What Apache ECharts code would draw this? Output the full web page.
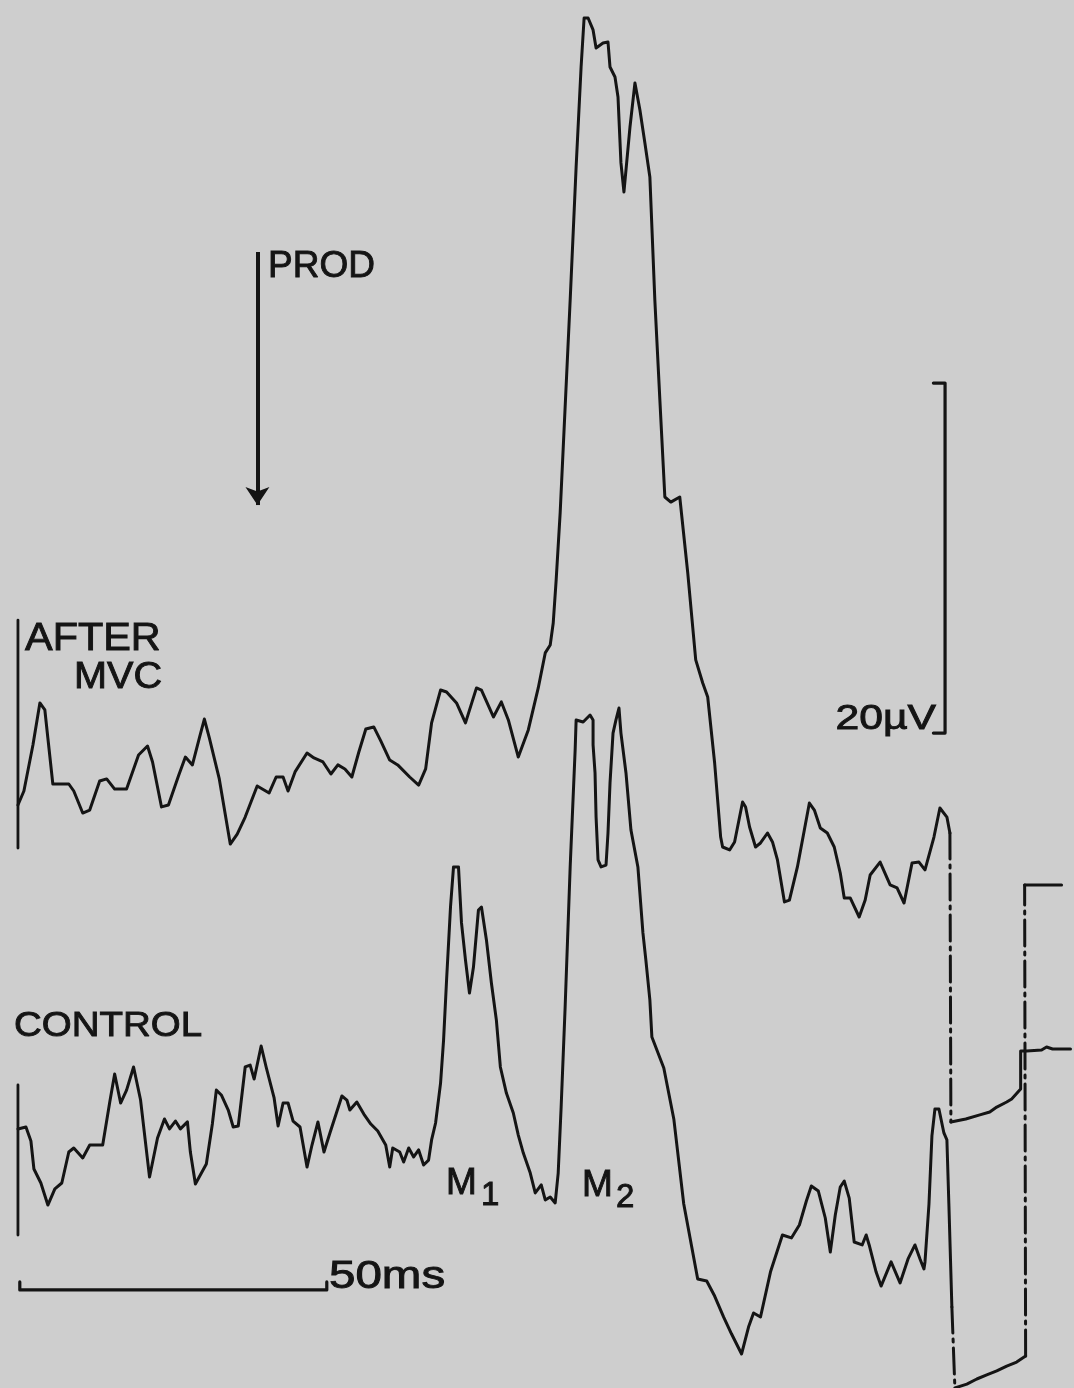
<!DOCTYPE html>
<html>
<head>
<meta charset="utf-8">
<script src="https://cdn.jsdelivr.net/npm/echarts@6/dist/echarts.min.js"></script>
<style>
  html, body { margin: 0; padding: 0; background: #cecece; }
  #chart { width: 1074px; height: 1388px; }
</style>
</head>
<body>
<div id="chart"></div>
<script>
// Averaged EMG responses to a prod: after maximal voluntary contraction (MVC) and control.
// Time in ms from the onset marker, amplitude in µV.

const afterMvcTrace = [
  [0,-1.0],[0.97,-0.2],[2.44,2.43],[3.57,4.83],[4.38,4.43],[4.87,2.83],[5.68,0.2],[8.28,0.2],[9.09,-0.2],
  [10.55,-1.46],[11.69,-1.29],[13.31,0.37],[14.45,0.49],[15.75,-0.09],[17.69,-0.09],[19.64,1.86],[21.10,2.37],
  [21.92,1.46],[23.38,-1.11],[24.51,-1.0],[26.14,0.66],[27.27,1.74],[28.41,1.29],[29.55,2.83],[30.36,3.91],
  [31.17,2.83],[32.79,0.49],[34.58,-3.23],[35.71,-2.66],[37.01,-1.69],[38.96,0.09],[40.91,-0.31],[42.05,0.6],
  [43.18,0.6],[43.99,-0.2],[45.13,0.89],[47.08,1.97],[48.21,1.69],[49.68,1.46],[50.97,0.77],[52.11,1.29],
  [53.25,1.06],[54.38,0.6],[55.52,2.03],[56.66,3.34],[57.95,3.46],[59.09,2.66],[60.55,1.57],[61.85,1.29],
  [63.80,0.6],[65.26,0.14],[66.40,1.06],[67.37,3.69],[68.83,5.57],[69.81,5.46],[71.43,4.83],[72.89,3.69],
  [74.68,5.69],[75.49,5.57],[77.44,4.03],[78.73,4.89],[79.87,3.86],[81.49,1.74],[83.12,3.29],[84.74,5.69],
  [85.88,7.69],[86.69,8.14],[87.18,9.4],[87.66,11.86],[88.31,15.69],[89.94,27.86],[90.91,35.46],[91.72,41.17],
  [92.21,43.97],[92.86,43.97],[93.67,43.29],[94.16,42.26],[95.29,42.54],[96.10,42.6],[96.43,41.17],[97.24,40.6],
  [97.73,39.46],[98.21,35.69],[98.70,34.03],[99.68,37.74],[100.49,40.26],[101.30,38.71],[102.11,36.83],
  [102.92,34.89],[103.73,27.86],[104.55,22.14],[105.36,16.6],[106.33,16.31],[107.79,16.6],[109.09,12.26],
  [110.39,7.29],[111.53,5.97],[112.34,5.17],[113.47,1.4],[114.45,-2.83],[114.77,-3.4],[115.91,-3.57],
  [116.72,-3.11],[117.53,-1.69],[118.02,-0.83],[118.51,-1.11],[119.16,-2.26],[120.13,-3.4],[120.94,-3.17],
  [122.08,-2.6],[122.89,-3.11],[123.70,-4.14],[124.84,-6.54],[125.65,-6.43],[126.95,-4.54],[128.08,-2.43],
  [128.90,-0.89],[129.71,-1.29],[130.68,-2.31],[131.82,-2.6],[132.95,-3.4],[133.93,-4.89],[134.58,-6.31],
  [135.55,-6.31],[137.01,-7.4],[137.99,-6.43],[138.80,-5.0],[140.42,-4.26],[142.05,-5.57],[143.18,-5.74],
  [144.32,-6.6],[145.62,-4.31],[146.75,-4.26],[147.73,-4.71],[149.19,-2.83],[150.16,-1.17],[151.30,-1.69],
  [151.79,-2.6]
];
// pen drop after the sweep, then the slow return
const afterMvcDrop = [[151.79,-2.6],[151.95,-19.11]];
const afterMvcReturn = [
  [151.95,-19.11],[154.38,-18.94],[156.66,-18.71],[158.28,-18.54],[159.42,-18.26],[161.04,-17.97],
  [161.85,-17.8],[163.31,-17.23],[163.31,-15.06],[164.29,-15.06],[166.72,-15.0],[167.53,-14.83],
  [168.51,-14.94],[171.43,-14.94]
];

const controlTrace = [
  [0,0.49],[1.30,0.6],[2.11,-0.2],[2.60,-1.8],[3.73,-2.6],[4.87,-3.86],[6.01,-2.94],[7.14,-2.6],[8.28,-0.83],
  [9.09,-0.6],[10.55,-1.17],[11.69,-0.43],[13.80,-0.43],[14.94,2.0],[15.75,3.63],[16.72,1.97],[17.69,2.71],
  [18.83,4.03],[19.97,2.14],[21.43,-2.26],[22.73,-0.03],[23.86,1.06],[24.68,0.49],[25.65,0.94],[26.46,0.49],
  [27.60,0.89],[28.08,-0.83],[28.90,-2.66],[30.68,-1.51],[31.66,0.77],[32.31,2.71],[33.12,2.43],[34.25,1.57],
  [35.06,0.6],[35.88,0.66],[37.01,4.03],[37.82,4.14],[38.47,3.34],[39.61,5.23],[40.42,4.03],[41.72,2.26],
  [42.37,0.66],[43.18,1.97],[43.99,1.97],[44.81,0.94],[45.94,0.6],[47.08,-1.69],[47.89,-0.43],[48.86,0.89],
  [49.84,-0.83],[50.81,0.26],[52.76,2.37],[53.57,2.14],[54.06,1.57],[55.19,2.03],[56.33,1.34],[57.47,0.77],
  [58.60,0.37],[59.90,-0.43],[60.55,-1.69],[61.04,-0.6],[62.18,-0.83],[62.82,-1.4],[63.64,-0.6],[64.45,-1.11],
  [65.26,-0.71],[66.07,-1.57],[66.88,-1.29],[67.37,-0.14],[68.02,0.83],[68.83,3.11],[69.32,5.57],[69.81,9.0],
  [70.45,13.17],[70.94,15.46],[71.75,15.46],[72.24,12.26],[72.89,10.14],[73.54,8.26],[74.19,9.74],[75.0,13.0],
  [75.49,13.17],[76.30,11.29],[77.11,8.83],[77.92,6.71],[78.57,4.03],[79.55,2.54],[80.68,1.4],[81.49,0.14],
  [82.31,-0.89],[83.44,-2.03],[84.25,-3.17],[85.23,-2.71],[85.88,-3.57],[86.69,-3.4],[87.50,-3.74],[87.99,-2.03],
  [88.47,1.74],[89.12,7.46],[89.94,15.46],[90.75,22.14],[90.91,23.86],[92.05,23.74],[93.18,24.14],[93.67,23.86],
  [93.67,22.43],[93.99,20.83],[94.16,18.31],[94.48,15.86],[94.97,15.46],[95.78,15.57],[96.10,17.4],[96.43,20.26],
  [96.92,23.11],[97.40,23.86],[97.89,24.54],[98.21,23.11],[99.03,20.83],[99.84,17.57],[100.97,15.46],
  [101.79,11.69],[102.27,10.14],[102.92,7.86],[103.25,5.74],[105.19,3.97],[106.82,1.06],[108.44,-3.8],
  [110.71,-8.09],[112.18,-8.2],[113.47,-9.06],[114.94,-10.26],[116.23,-11.23],[117.86,-12.37],[118.99,-10.83],
  [119.81,-10.03],[120.94,-10.26],[122.56,-7.69],[124.51,-5.57],[125.97,-5.74],[127.27,-5.0],[128.41,-3.63],
  [129.22,-2.77],[130.36,-3.06],[131.49,-4.6],[132.31,-6.54],[133.12,-4.43],[133.93,-2.83],[134.58,-2.49],
  [135.39,-3.46],[136.20,-5.97],[137.50,-6.14],[138.15,-5.57],[138.64,-6.14],[139.77,-7.69],[140.58,-8.49],
  [142.21,-7.11],[143.67,-8.31],[144.97,-6.94],[146.10,-6.14],[146.92,-6.94],[147.56,-7.51],[147.73,-7.11],
  [148.38,-3.8],[148.86,0.09],[149.35,1.63],[150.0,1.63],[150.81,0.26],[151.30,-0.14],[151.62,-3.8],[152.11,-9.69]
];
const controlDrop = [[152.11,-9.69],[152.6,-14.31]];
const controlReturn = [
  [152.6,-14.31],[154.55,-14.09],[156.17,-13.8],[157.79,-13.57],[159.42,-13.34],[161.04,-13.06],
  [162.66,-12.83],[164.12,-12.49]
];
const controlJump = [[164.12,-12.49],[163.96,14.43]];
const controlEnd = [[163.96,14.43],[169.97,14.43]];

// sweep-onset marks at t = 0 (µV extent of each mark)
const afterMvcOnset = [[0,9.57],[0,-3.46]];
const controlOnset = [[0,3.0],[0,-5.57]];

// stimulus time and calibration sizes
const prodTimeMs = 39.0;
const timeCalMs = 50;
const ampCalUv = 20;

const INK = '#141414';
const FONT = '"Liberation Sans", Arial, Helvetica, sans-serif';
const W = 1074, H = 1388;
const X_MIN = -2, X_MAX = 172;
const PX_PER_MS = 6.16, PX_PER_UV = 17.5;
const gridLeft = 18 + X_MIN * PX_PER_MS;
const gridWidth = (X_MAX - X_MIN) * PX_PER_MS;
const uvSpan = H / PX_PER_UV;   // µV covered by the full height

function trace(data, g, dashed, width) {
  return {
    type: 'line', xAxisIndex: g, yAxisIndex: g, data: data,
    symbol: 'none', showSymbol: false, clip: false, silent: true, animation: false,
    lineStyle: { color: INK, width: width || 3, type: dashed ? [26, 6, 3, 6] : 'solid', cap: 'round', join: 'round' }
  };
}

// calibration bars built from their sizes
const timeCalStart = 0.3, timeCalLevel = -8.71, timeCalTick = 0.46;
const timeCal = [
  [timeCalStart, timeCalLevel + timeCalTick], [timeCalStart, timeCalLevel],
  [timeCalStart + timeCalMs, timeCalLevel], [timeCalStart + timeCalMs, timeCalLevel + timeCalTick]
];
const ampCalX = 151.0, ampCalBase = 3.11, ampCalTick = 1.9;
const ampCal = [
  [ampCalX - ampCalTick, ampCalBase + ampCalUv], [ampCalX, ampCalBase + ampCalUv],
  [ampCalX, ampCalBase], [ampCalX - ampCalTick, ampCalBase]
];

const prodSeries = {
  type: 'line', xAxisIndex: 0, yAxisIndex: 0, data: [], silent: true, animation: false,
  markLine: {
    silent: true, animation: false,
    symbol: ['none', 'arrow'], symbolSize: 18,
    label: { show: false },
    lineStyle: { color: INK, width: 4, type: 'solid' },
    data: [[{ coord: [prodTimeMs, 30.6] }, { coord: [prodTimeMs, 16.14] }]]
  }
};

function label(text, x, y, size, opts) {
  opts = opts || {};
  return {
    type: 'text', x: x, y: y, scaleX: opts.sx || 1, silent: true,
    style: {
      text: text, fill: INK, stroke: INK, lineWidth: 0.9,
      font: size + 'px ' + FONT,
      align: opts.align || 'left', verticalAlign: 'middle'
    }
  };
}

const chart = echarts.init(document.getElementById('chart'), null, { renderer: 'canvas' });
chart.setOption({
  backgroundColor: '#cecece',
  animation: false,
  grid: [
    { left: gridLeft, top: 0, width: gridWidth, height: H },
    { left: gridLeft, top: 0, width: gridWidth, height: H }
  ],
  xAxis: [
    { type: 'value', gridIndex: 0, min: X_MIN, max: X_MAX, show: false },
    { type: 'value', gridIndex: 1, min: X_MIN, max: X_MAX, show: false }
  ],
  yAxis: [
    { type: 'value', gridIndex: 0, min: 45 - uvSpan, max: 45, show: false },
    { type: 'value', gridIndex: 1, min: 65 - uvSpan, max: 65, show: false }
  ],
  series: [
    trace(afterMvcOnset, 0, false, 2.8),
    trace(afterMvcTrace, 0, false),
    trace(afterMvcDrop, 0, true),
    trace(afterMvcReturn, 0, false),
    trace(controlOnset, 1, false, 2.8),
    trace(controlTrace, 1, false),
    trace(controlDrop, 1, true),
    trace(controlReturn, 1, false),
    trace(controlJump, 1, true),
    trace(controlEnd, 1, false),
    trace(timeCal, 1, false, 3.2),
    trace(ampCal, 0, false, 3.2),
    prodSeries
  ],
  graphic: [
    label('PROD', 268, 267, 37),
    label('AFTER', 25, 640, 38, { sx: 1.09 }),
    label('MVC', 162, 678, 37, { align: 'right', sx: 1.07 }),
    label('CONTROL', 14, 1026, 35, { sx: 1.1 }),
    label('20µV', 936, 719, 35, { align: 'right', sx: 1.22 }),
    label('50ms', 329, 1278, 38, { sx: 1.25 }),
    label('M', 446, 1184, 37),
    label('1', 481, 1196, 33),
    label('M', 582, 1186, 37),
    label('2', 616, 1198, 33)
  ]
});
</script>
</body>
</html>
